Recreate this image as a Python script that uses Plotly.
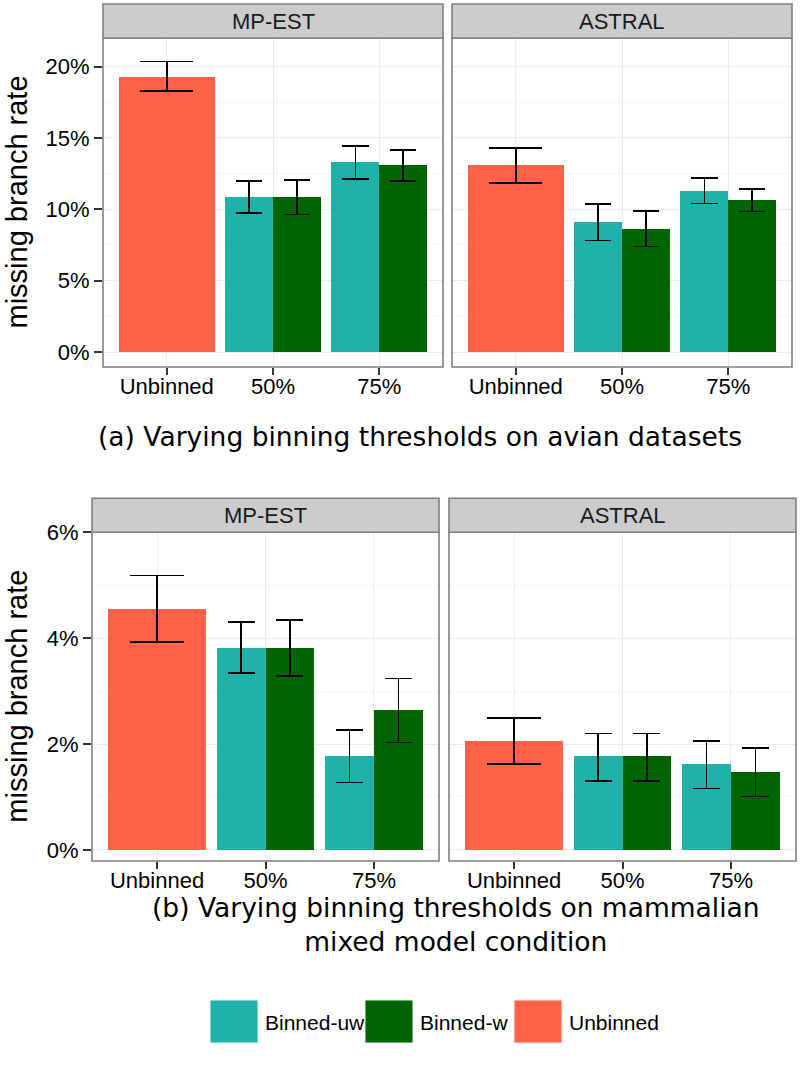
import plotly.graph_objects as go

W, H = 800, 1075

categories = ["Unbinned", "50%", "75%"]
binned_levels = ["50%", "75%"]
methods = ["MP-EST", "ASTRAL"]
legend_names = ["Binned-uw", "Binned-w", "Unbinned"]
colors = {"Unbinned": "#FF6347", "Binned-uw": "#20B2AA", "Binned-w": "#006400"}

# (a) avian datasets, missing branch rate (%), one value per method
avian_unbinned = [19.30, 13.07]
avian_unbinned_lo = [18.28, 11.86]
avian_unbinned_hi = [20.36, 14.31]
# binned, per method -> [50%, 75%]
avian_uw = [[10.85, 13.28], [9.08, 11.27]]
avian_uw_lo = [[9.76, 12.14], [7.82, 10.41]]
avian_uw_hi = [[11.97, 14.45], [10.36, 12.21]]
avian_w = [[10.85, 13.07], [8.61, 10.62]]
avian_w_lo = [[9.64, 12.00], [7.38, 9.85]]
avian_w_hi = [[12.04, 14.15], [9.90, 11.41]]

# (b) mammalian mixed model condition
mammal_unbinned = [4.55, 2.05]
mammal_unbinned_lo = [3.93, 1.62]
mammal_unbinned_hi = [5.18, 2.49]
mammal_uw = [[3.81, 1.76], [1.76, 1.61]]
mammal_uw_lo = [[3.34, 1.27], [1.30, 1.16]]
mammal_uw_hi = [[4.30, 2.26], [2.20, 2.06]]
mammal_w = [[3.81, 2.64], [1.76, 1.46]]
mammal_w_lo = [[3.29, 2.03], [1.30, 1.01]]
mammal_w_hi = [[4.34, 3.24], [2.20, 1.92]]

avian_ticks = [0, 5, 10, 15, 20]
mammal_ticks = [0, 2, 4, 6]

LIB = "Liberation Sans, Arial, sans-serif"
DJ = "DejaVu Sans, sans-serif"

BAR_W = 0.9
DODGE = BAR_W / 2


def px_x(p):
    return p / W


def px_y(p):
    return 1 - p / H


fig = go.Figure()

# panel boxes in pixels: (left, right, top, bottom, strip_top)
panels = [
    (103, 443, 38, 367, 4),
    (452, 792, 38, 367, 4),
    (92, 439, 532.3, 861, 498.3),
    (449, 796, 532.3, 861, 498.3),
]
datasets = [
    (avian_unbinned, avian_unbinned_lo, avian_unbinned_hi, avian_uw, avian_uw_lo, avian_uw_hi,
     avian_w, avian_w_lo, avian_w_hi),
    (mammal_unbinned, mammal_unbinned_lo, mammal_unbinned_hi, mammal_uw, mammal_uw_lo, mammal_uw_hi,
     mammal_w, mammal_w_lo, mammal_w_hi),
]
yranges = [[-1.05, 22.0], [-0.21, 6.0]]
yticks = [avian_ticks, mammal_ticks]
minor_dt = [2.5, 1]

shapes = []
annotations = []
layout_axes = {}

for k, (l, r, t, b, st) in enumerate(panels):
    n = k + 1
    row, col = divmod(k, 2)
    xa = "x" if n == 1 else f"x{n}"
    ya = "y" if n == 1 else f"y{n}"
    (unb, unb_lo, unb_hi, uw, uw_lo, uw_hi, wv, w_lo, w_hi) = datasets[row]
    unit = (r - l) / 3.2
    cap_big = unit * 0.25
    cap_small = unit * 0.125

    fig.add_bar(
        x=[categories.index("Unbinned")], y=[unb[col]], width=BAR_W,
        marker=dict(color=colors["Unbinned"], line=dict(width=0)),
        error_y=dict(type="data", symmetric=False,
                     array=[unb_hi[col] - unb[col]], arrayminus=[unb[col] - unb_lo[col]],
                     color="black", thickness=1.6, width=cap_big),
        xaxis=xa, yaxis=ya, showlegend=False, name="Unbinned")
    idx = [categories.index(c) for c in binned_levels]
    for name, vals, lo, hi, shift in [("Binned-uw", uw, uw_lo, uw_hi, -DODGE / 2),
                                      ("Binned-w", wv, w_lo, w_hi, DODGE / 2)]:
        v = vals[col]
        fig.add_bar(
            x=[i + shift for i in idx], y=v, width=DODGE,
            marker=dict(color=colors[name], line=dict(width=0)),
            error_y=dict(type="data", symmetric=False,
                         array=[h - m for h, m in zip(hi[col], v)],
                         arrayminus=[m - q for m, q in zip(v, lo[col])],
                         color="black", thickness=1.6, width=cap_small),
            xaxis=xa, yaxis=ya, showlegend=False, name=name)

    xkey = "xaxis" if n == 1 else f"xaxis{n}"
    ykey = "yaxis" if n == 1 else f"yaxis{n}"
    layout_axes[xkey] = dict(
        domain=[px_x(l), px_x(r)], anchor=ya, range=[-0.6, 2.6],
        tickmode="array", tickvals=list(range(len(categories))), ticktext=categories,
        ticks="outside", ticklen=7, tickwidth=2, tickcolor="#333333",
        ticklabelstandoff=-7,
        showgrid=True, gridcolor="#EBEBEB", gridwidth=1, zeroline=False,
        automargin=False,
        tickfont=dict(family=LIB, size=22, color="black"), fixedrange=True)
    layout_axes[ykey] = dict(
        domain=[px_y(b), px_y(t)], anchor=xa, range=yranges[row],
        tickmode="array", tickvals=yticks[row],
        ticktext=[f"{v}%" for v in yticks[row]],
        showticklabels=(col == 0), ticks="outside" if col == 0 else "",
        ticklen=8, tickwidth=2, tickcolor="#333333",
        showgrid=True, gridcolor="#EBEBEB", gridwidth=1, zeroline=False,
        automargin=False,
        minor=dict(dtick=minor_dt[row], tick0=0, showgrid=True, gridcolor="#F6F6F6", ticks=""),
        tickfont=dict(family=LIB, size=22, color="black"), fixedrange=True)

    # panel border
    shapes.append(dict(type="rect", xref="paper", yref="paper",
                       x0=px_x(l), x1=px_x(r), y0=px_y(b), y1=px_y(t),
                       line=dict(color="#7F7F7F", width=1.6), layer="above"))
    # strip
    shapes.append(dict(type="rect", xref="paper", yref="paper",
                       x0=px_x(l), x1=px_x(r), y0=px_y(t), y1=px_y(st),
                       fillcolor="#CCCCCC", line=dict(color="#7F7F7F", width=1.6), layer="above"))
    annotations.append(dict(text=methods[col], xref="paper", yref="paper",
                            x=px_x((l + r) / 2), y=px_y((t + st) / 2),
                            xanchor="center", yanchor="middle", showarrow=False,
                            font=dict(family=LIB, size=22, color="#1A1A1A")))
    if col == 0:
        annotations.append(dict(text="missing branch rate", xref="paper", yref="paper",
                                x=px_x(17), y=px_y((t + b) / 2), textangle=-90,
                                xanchor="center", yanchor="middle", showarrow=False,
                                font=dict(family=LIB, size=29, color="black")))

# captions
annotations.append(dict(text="(a) Varying binning thresholds on avian datasets",
                        xref="paper", yref="paper", x=px_x(420), y=px_y(437),
                        xanchor="center", yanchor="middle", showarrow=False,
                        font=dict(family=DJ, size=26.5, color="black")))
annotations.append(dict(text="(b) Varying binning thresholds on mammalian<br>mixed model condition",
                        xref="paper", yref="paper", x=px_x(456), y=px_y(924),
                        xanchor="center", yanchor="middle", showarrow=False,
                        font=dict(family=DJ, size=26.5, color="black")))

# legend drawn as large keys like ggplot
legend_key_x = [210, 365, 514]
for name, kx in zip(legend_names, legend_key_x):
    shapes.append(dict(type="rect", xref="paper", yref="paper",
                       x0=px_x(kx), x1=px_x(kx + 48), y0=px_y(1043), y1=px_y(1000),
                       fillcolor=colors[name], line=dict(color="#F0F0F0", width=1)))
    annotations.append(dict(text=name, xref="paper", yref="paper",
                            x=px_x(kx + 53), y=px_y(1022),
                            xanchor="left", yanchor="middle", showarrow=False,
                            font=dict(family=LIB, size=21, color="black")))

fig.update_layout(
    width=W, height=H,
    margin=dict(l=0, r=0, t=0, b=0, pad=0, autoexpand=False),
    paper_bgcolor="white", plot_bgcolor="white",
    barmode="overlay", bargap=0,
    showlegend=False,
    shapes=shapes, annotations=annotations,
    **layout_axes,
)

fig.write_html("out.html", config={"displayModeBar": False},
               post_script="document.body.style.margin='0';")
